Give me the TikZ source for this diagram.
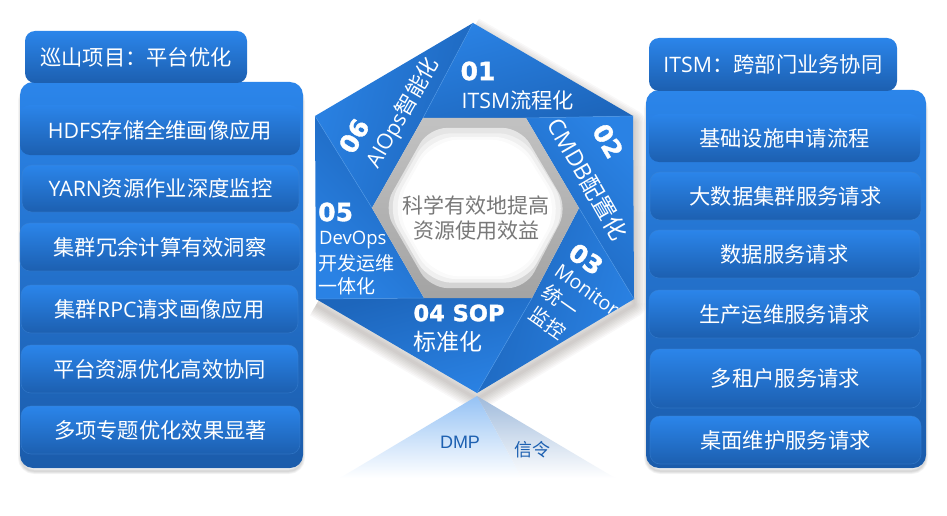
\documentclass[tikz,border=0pt]{standalone}
\usepackage{fontspec}
\setmainfont{Noto Sans CJK SC}
\newfontfamily\la{Open Sans}
\newfontfamily\nm[BoldFeatures={FakeBold=1.3}]{DejaVu Sans}
\newfontfamily\ar{Liberation Sans}
\definecolor{bl}{HTML}{2B85EA}
\definecolor{bd}{HTML}{1B5CAB}
\definecolor{bm}{HTML}{2574D2}
\definecolor{sl}{HTML}{2A82E4}
\definecolor{sd}{HTML}{1D66BC}
\definecolor{edge}{HTML}{4A94E4}
\tikzset{
  itembox/.style={rounded corners=10pt,top color=bl,bottom color=bd!92!bl,draw=edge!70!bd,draw opacity=0.55,line width=0.6pt,text=white,font=\fontsize{21.3}{25}\selectfont,inner sep=0pt},
  titlebox/.style={itembox,draw=none},
  topitem/.style={itembox,draw=none},
  paneltone/.style={rounded corners=13pt},
  numlabel/.style={text=white,font=\nm\bfseries\fontsize{25}{28}\selectfont,inner sep=0pt},
  seglabel/.style={text=white,font=\fontsize{21.3}{25}\selectfont,inner sep=0pt},
  fold/.style={edge,line width=0.5pt},
}
\newcommand{\ibox}[7][itembox]{%
  \node[#1,minimum width={(#5-#3)*1pt},minimum height={(#6-#4)*1pt}] (#2) at ({(#3+#5)/2},{(#4+#6)/2}) {\raisebox{-1pt}{#7}};}
\newcommand{\pbody}[5]{%
  \foreach \w in {1.5,3,4.5,6}{\draw[black,opacity=0.04,line width=\w pt,rounded corners=13pt] (#2+1,#3+6) rectangle (#4-1,#5+3);}
  \shade[paneltone,top color=bl,middle color=bm,bottom color=bd] (#2,#3) rectangle (#4,#5);
  \coordinate (#1) at (#2,#3);}
\begin{document}
\begin{tikzpicture}[x=1pt,y=-1pt]
\path[use as bounding box,fill=white] (0,0) rectangle (947,516);
% left panel
\pbody{lp}{20}{82}{303}{468}
\ibox[titlebox]{lt}{25}{31}{247}{83}{巡山项目：平台优化}
\ibox[topitem]{l1}{20}{105}{300}{155}{{\la HDFS}存储全维画像应用}
\ibox{l2}{22}{165}{299}{212}{{\la YARN}资源作业深度监控}
\ibox{l3}{20}{223}{300}{271}{集群冗余计算有效洞察}
\ibox{l4}{21}{285}{298}{333}{集群{\la RPC}请求画像应用}
\ibox{l5}{21}{345}{298}{393}{平台资源优化高效协同}
\ibox{l6}{21}{406}{300}{454}{多项专题优化效果显著}
% right panel
\pbody{rp}{646}{90}{926}{468}
\ibox[titlebox]{rt}{649}{38}{897}{91}{{\la ITSM}：跨部门业务协同}
\ibox[topitem]{r1}{649}{114}{920}{162}{基础设施申请流程}
\ibox{r2}{650}{172}{921}{220}{大数据集群服务请求}
\ibox{r3}{649}{230}{920}{278}{数据服务请求}
\ibox{r4}{649}{290}{920}{338}{生产运维服务请求}
\ibox{r5}{650}{349}{921}{408}{多租户服务请求}
\ibox{r6}{650}{416}{921}{464}{桌面维护服务请求}
% hexagon vertices
\coordinate (A) at (473,23);
\coordinate (B) at (633,116);
\coordinate (C) at (634,299);
\coordinate (D) at (477,393);
\coordinate (E) at (316,299);
\coordinate (F) at (315,116);
\coordinate (a) at (423,118);
\coordinate (b) at (526,118);
\coordinate (c) at (579,208);
\coordinate (d) at (532,298);
\coordinate (e) at (424,298);
\coordinate (f) at (372,208);
% hexagon shadow, on the right and lower edges only
\foreach \w in {3,6,...,24}{\draw[black!80!brown,opacity=0.028,line width=\w pt,line join=round] ([yshift=-6pt]A)--([yshift=-6pt]B)--([yshift=-6pt]C)--([yshift=-6pt]D)--([yshift=-6pt]E);}
% reflection
\shade[top color=bl!50!white,middle color=bl!13!white,bottom color=white] (477,396) -- (340,478) -- (522,478) -- cycle;
\shade[top color=bd!42!white,middle color=bd!12!white,bottom color=white] (477,396) -- (522,478) -- (615,478) -- cycle;
% six folded segments
\shade[top color=sl,bottom color=sd,shading angle=15] (A)--(B)--(b)--(a)--cycle;
\shade[top color=sl,bottom color=sd,shading angle=-45] (B)--(C)--(c)--(b)--cycle;
\shade[top color=sl,bottom color=sd,shading angle=-105] (C)--(D)--(d)--(c)--cycle;
\shade[top color=sl,bottom color=sd,shading angle=-165] (D)--(E)--(e)--(d)--cycle;
\shade[top color=sl,bottom color=sd,shading angle=-225] (E)--(F)--(f)--(e)--cycle;
\shade[top color=sl,bottom color=sd,shading angle=-285] (F)--(A)--(a)--(f)--cycle;
\draw[fold] (A)--(a) (B)--(b) (C)--(c) (D)--(d) (E)--(e) (F)--(f);
% centre plate
\shade[top color=black!24,bottom color=black!36] (a)--(b)--(c)--(d)--(e)--(f)--cycle;
\begin{scope}[shift={(476,208)}]
\shade[top color=black!10,bottom color=black!17,rounded corners=18pt,scale=0.89] (-53,-90)--(50,-90)--(103,0)--(56,90)--(-52,90)--(-104,0)--cycle;
\foreach \s/\c/\r in {0.83/black!6/22,0.79/black!2/24,0.76/white/26}{
  \fill[\c,rounded corners=\r pt,scale=\s] (-57,-90)--(54,-90)--(110,0)--(60,90)--(-56,90)--(-108,0)--cycle;}
\end{scope}
\node[text=black!53,align=center,font=\fontsize{21}{25}\selectfont,inner sep=0pt] (centre) at (476,217.5) {科学有效地提高\\资源使用效益};
% labels
\node[numlabel] (n1) at (478,71) {01};
\node[seglabel] (t1) at (518,100) {{\la ITSM}流程化};
\node[numlabel,rotate=-60] (n2) at (608,141) {02};
\node[seglabel,rotate=-60,font=\fontsize{23}{26}\selectfont] (t2) at (588,179) {{\la CMDB}配置化};
\node[numlabel,rotate=-35] (n3) at (586,259) {03};
\node[seglabel,rotate=-35,font=\la\fontsize{19.5}{24}\selectfont] (t3a) at (587,290) {Monitor};
\node[seglabel,rotate=-35,font=\fontsize{19.5}{24}\selectfont] (t3b) at (561,301) {统一};
\node[seglabel,rotate=-35,font=\fontsize{19.5}{24}\selectfont] (t3c) at (548,323) {监控};
\node[numlabel,font=\nm\bfseries\fontsize{22.5}{26}\selectfont] (n4) at (459,313) {04 SOP};
\node[seglabel,font=\fontsize{23}{26}\selectfont] (t4) at (448,342) {标准化};
\node[numlabel,anchor=west] (n5) at (318,212) {05};
\node[seglabel,anchor=west,font=\la\fontsize{18.5}{22}\selectfont] (t5a) at (319,240) {DevOps};
\node[seglabel,anchor=west,font=\fontsize{19}{22}\selectfont] (t5b) at (318,263) {开发运维};
\node[seglabel,anchor=west,font=\fontsize{19}{22}\selectfont] (t5c) at (318,286) {一体化};
\node[numlabel,rotate=60] (n6) at (354,136) {06};
\node[seglabel,rotate=60] (t6) at (403,113) {{\la AIOps}智能化};
% reflected labels
\node[text=bd!90!bl,font=\ar\fontsize{18}{20}\selectfont,inner sep=0pt] (dmp) at (460,442) {DMP};
\node[text=bd!90!bl,font=\fontsize{18}{20}\selectfont,inner sep=0pt] (xl) at (532,450) {信令};
\end{tikzpicture}
\end{document}
